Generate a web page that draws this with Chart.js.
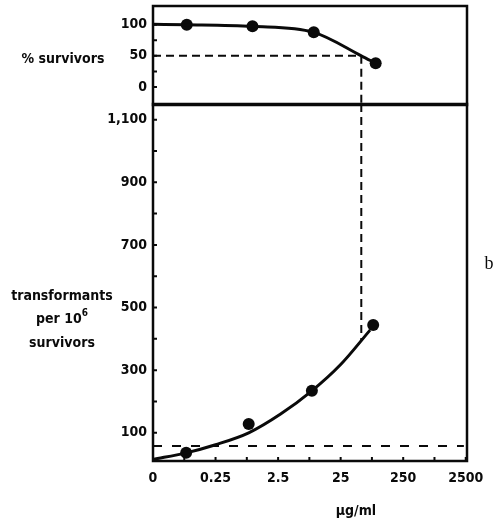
<!DOCTYPE html>
<html>
<head>
<meta charset="utf-8">
<script src="https://cdn.jsdelivr.net/npm/chart.js@4.4.1/dist/chart.umd.min.js"></script>
<style>
  html, body { margin: 0; padding: 0; background: #fff; }
  #wrap { position: relative; width: 498px; height: 520px; overflow: hidden; }
  #wrap canvas { position: absolute; left: 0; }
  #survCanvas { top: 0; }
  #transCanvas { top: 96px; }
  .lbl {
    position: absolute;
    transform: translate(-50%, -50%);
    font-family: "DejaVu Sans Condensed", "DejaVu Sans", sans-serif;
    font-weight: bold;
    font-size: 14px;
    line-height: 23px;
    color: #0a0a0a;
    white-space: nowrap;
    text-align: center;
  }
  .sup { font-size: 10px; position: relative; top: -7px; }
  .panel-tag { font-family: "Liberation Serif", "DejaVu Serif", serif; font-weight: normal; font-size: 18px; }
</style>
</head>
<body>
<div id="wrap">
  <canvas id="survCanvas" width="498" height="111"></canvas>
  <canvas id="transCanvas" width="498" height="424"></canvas>
  <div class="lbl" style="left:63px; top:58px;">% survivors</div>
  <div class="lbl" style="left:62px; top:319px;">transformants<br>per 10<span class="sup">6</span><br>survivors</div>
  <div class="lbl" style="left:356px; top:510px;">µg/ml</div>
  <div class="lbl panel-tag" style="left:489px; top:263px;">b</div>
</div>
<script>
  const INK = "#0a0a0a";

  // dose axis: evenly spaced positions 0..5, labelled with the concentrations
  const doseTicks = [0, 0.5, 1, 1.5, 2, 2.5, 3, 3.5, 4, 4.5, 5];
  const doseLabels = ["0", "", "0.25", "", "2.5", "", "25", "", "250", "", "2500"];
  const DOSE_MAX = 5.02;

  // % survivors
  const survTicks = [0, 25, 50, 75, 100];
  const survLabels = ["0", "", "50", "", "100"];
  const SURV_MIN = -29;
  const SURV_MAX = 130;
  const survPointX = [0.54, 1.59, 2.57, 3.56];
  const survPointY = [100, 97.3, 87.7, 38];
  const survCurveX = [0, 0.54, 1.59, 2.57, 3.33, 3.56];
  const survCurveY = [100.5, 100, 97.3, 87.7, 50, 38];

  // dose giving 50% survival
  const halfDose = 3.33;
  const halfLevel = 50;

  // transformants per 10^6 survivors
  const transTicks = [100, 200, 300, 400, 500, 600, 700, 800, 900, 1000, 1100];
  const transLabels = ["100", "", "300", "", "500", "", "700", "", "900", "", "1,100"];
  const TRANS_MIN = 10;
  const TRANS_MAX = 1150;
  const transPointX = [0.53, 1.53, 2.54, 3.52];
  const transPointY = [36, 128, 234, 444];
  const transCurveX = [0, 0.53, 1.0, 1.53, 2.04, 2.54, 3.0, 3.47];
  const transCurveY = [15, 36, 62, 100, 160, 234, 318, 428];
  const transAtHalfDose = 395;
  const backgroundLevel = 58;
  const backgroundEnd = 4.97;

  const zip = (xs, ys) => xs.map((x, i) => ({ x, y: ys[i] }));

  Chart.defaults.font = {
    family: '"DejaVu Sans Condensed", "DejaVu Sans", sans-serif',
    size: 14,
    weight: "bold",
  };
  Chart.defaults.color = INK;

  // inward tick marks plus the panel frame
  const frameTicks = {
    id: "frameTicks",
    afterDraw(chart) {
      const { ctx, chartArea: a } = chart;
      ctx.save();
      ctx.strokeStyle = INK;
      ctx.lineWidth = 2;
      ctx.beginPath();
      const y = chart.scales.y;
      y.ticks.forEach((t) => {
        const py = y.getPixelForValue(t.value);
        ctx.moveTo(a.left, py);
        ctx.lineTo(a.left + 4, py);
      });
      const x = chart.scales.x;
      if (x.options.display) {
        x.ticks.forEach((t) => {
          const px = x.getPixelForValue(t.value);
          ctx.moveTo(px, a.bottom);
          ctx.lineTo(px, a.bottom - 4);
        });
      }
      ctx.stroke();
      ctx.lineWidth = 2.5;
      ctx.strokeRect(a.left, a.top, a.right - a.left, a.bottom - a.top);
      ctx.restore();
    },
  };

  function curveSet(data) {
    return {
      data,
      borderColor: INK,
      borderWidth: 3,
      pointRadius: 0,
      cubicInterpolationMode: "monotone",
      clip: false,
    };
  }

  function pointSet(data) {
    return {
      data,
      showLine: false,
      pointRadius: 6,
      pointBorderWidth: 0,
      pointBackgroundColor: INK,
      clip: false,
    };
  }

  function dashSet(data, dash) {
    return {
      data,
      borderColor: INK,
      borderWidth: 2,
      borderDash: dash,
      pointRadius: 0,
      tension: 0,
      clip: false,
    };
  }

  function yScale(min, max, ticks, labels) {
    return {
      type: "linear",
      min,
      max,
      afterBuildTicks: (s) => {
        s.ticks = ticks.map((v) => ({ value: v }));
      },
      afterFit: (s) => {
        s.width = 153;
        s.paddingTop = 0;
        s.paddingBottom = 0;
      },
      ticks: { padding: 6, callback: (v, i) => labels[i] },
      grid: { display: false, drawTicks: false },
      border: { display: false },
    };
  }

  const baseOptions = {
    responsive: false,
    animation: false,
    events: [],
    plugins: { legend: { display: false }, tooltip: { enabled: false } },
  };

  new Chart(document.getElementById("survCanvas"), {
    type: "line",
    data: {
      datasets: [
        dashSet([{ x: 0, y: halfLevel }, { x: halfDose, y: halfLevel }], [8, 5]),
        dashSet([{ x: halfDose, y: halfLevel }, { x: halfDose, y: SURV_MIN }], [8, 5]),
        curveSet(zip(survCurveX, survCurveY)),
        pointSet(zip(survPointX, survPointY)),
      ],
    },
    options: {
      ...baseOptions,
      layout: { padding: { left: 0, right: 31, top: 5, bottom: 2 } },
      scales: {
        x: { type: "linear", display: false, min: 0, max: DOSE_MAX },
        y: yScale(SURV_MIN, SURV_MAX, survTicks, survLabels),
      },
    },
    plugins: [frameTicks],
  });

  new Chart(document.getElementById("transCanvas"), {
    type: "line",
    data: {
      datasets: [
        dashSet([{ x: 0, y: backgroundLevel }, { x: backgroundEnd, y: backgroundLevel }], [9, 10]),
        dashSet([{ x: halfDose, y: TRANS_MAX }, { x: halfDose, y: transAtHalfDose }], [8, 5]),
        curveSet(zip(transCurveX, transCurveY)),
        pointSet(zip(transPointX, transPointY)),
      ],
    },
    options: {
      ...baseOptions,
      layout: { padding: { left: 0, right: 31, top: 8, bottom: 0 } },
      scales: {
        x: {
          type: "linear",
          min: 0,
          max: DOSE_MAX,
          afterBuildTicks: (s) => {
            s.ticks = doseTicks.map((v) => ({ value: v }));
          },
          afterFit: (s) => {
            s.height = 59;
            s.paddingLeft = 0;
            s.paddingRight = 0;
          },
          ticks: { padding: 9, maxRotation: 0, autoSkip: false, callback: (v, i) => doseLabels[i] },
          grid: { display: false, drawTicks: false },
          border: { display: false },
        },
        y: yScale(TRANS_MIN, TRANS_MAX, transTicks, transLabels),
      },
    },
    plugins: [frameTicks],
  });
</script>
</body>
</html>
